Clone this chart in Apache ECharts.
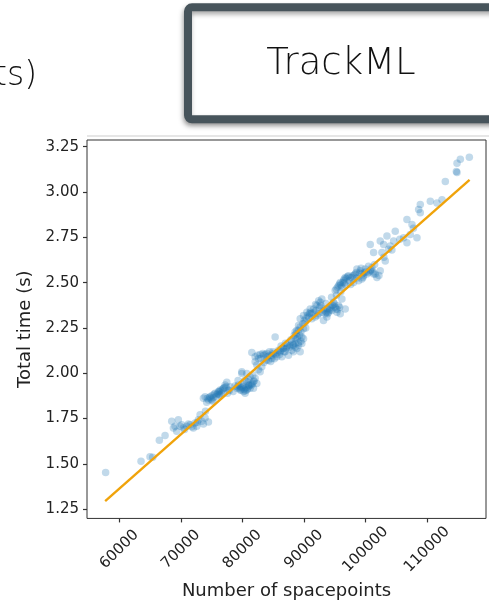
<!DOCTYPE html>
<html>
<head>
<meta charset="utf-8">
<script src="https://cdn.jsdelivr.net/npm/echarts@6/dist/echarts.min.js"></script>
<style>html,body{margin:0;padding:0;background:#fff}#c{width:489px;height:605px}</style>
</head>
<body>
<div id="c"></div>
<script>
// Number of spacepoints per event
const spacepoints = [
57780,63530,64990,65430,66510,67440,
68520,69600,68790,69330,69880,70420,70960,71500,72040,72320,72860,73130,73400,73940,74490,70150,71230,72590,73670,69060,
73670,74490,74760,75300,75840,76110,76380,76930,77200,77470,77740,76650,75570,75030,78010,77580,73940,74320,74650,75080,75410,75730,76000,76270,76550,76820,77090,77360,74860,76220,
79090,79640,80180,80720,81260,81540,81810,82080,81260,80720,80180,79640,79910,80990,82350,81810,80450,79370,79200,79530,79910,80290,80610,80990,81370,81640,81910,80070,80830,81160,80450,79750,79910,80720,
81540,82080,82620,82890,83160,83430,83980,84520,85060,85600,86140,86690,87230,87770,88040,88310,88580,88860,89130,89400,89670,89940,85330,82350,84790,85870,86960,87500,86420,84250,82080,82460,82890,83320,83700,84080,84410,84950,85330,85710,86250,86580,87120,87660,88200,88580,89130,89510,83000,83870,84790,86040,86800,87340,
88040,88310,88860,88580,89130,89400,89940,90480,91030,89670,90210,90750,88860,91300,88420,88750,89130,89400,89830,90050,90370,90590,90920,89510,89940,88960,
91570,92110,92650,92920,93190,93470,93740,94010,94280,94550,94820,95090,95360,95630,95910,96180,96720,92380,91840,91030,93190,91680,92000,92540,92760,93300,93630,93850,94170,94390,94710,94930,95260,95470,95800,93850,94550,92920,92220,
95090,95630,95910,96450,96720,97260,97800,98350,98620,99160,99430,99700,100240,100790,101060,101330,101870,102410,96180,98080,98890,99970,95260,95470,95800,96010,96340,96560,96880,97100,97530,97970,98180,98510,99050,99430,99810,100140,100520,100900,101220,101600,96560,97420,99590,
100790,102410,102960,103500,104040,104580,104850,103230,101330,102680,103770,106750,107570,108380,106750,106210,107290,108920,108650,108920,110550,111630,112450,112990,114780,114890,114890,115430,116890,
70600,71800,72700,74000,74200,75200,76400,77900,78500,78800,79300,80400,81000,81700,82600,83500,84600,85200,86300,87000,87900,88600,89300,90300,91200,91900,92400,93600,94500,95300,96000,96800,97600,98600,99300,100500,101500,102200,103000,104300,105600,107800
];
// Total time (s)
const totalTime = [
1.452,1.515,1.539,1.537,1.630,1.656,
1.735,1.744,1.698,1.680,1.707,1.698,1.707,1.716,1.698,1.725,1.744,1.771,1.735,1.753,1.731,1.716,1.720,1.707,1.720,1.707,
1.862,1.853,1.871,1.866,1.881,1.899,1.908,1.917,1.935,1.950,1.908,1.890,1.890,1.853,1.926,1.890,1.871,1.862,1.866,1.877,1.884,1.871,1.890,1.899,1.903,1.913,1.921,1.926,1.859,1.881,
1.917,1.908,1.899,1.908,1.917,1.935,1.954,1.972,1.981,1.954,1.935,1.926,1.999,1.935,1.944,1.917,1.890,1.935,1.926,1.917,1.921,1.913,1.921,1.926,1.939,1.944,1.957,1.926,1.913,1.932,1.903,1.908,2.008,1.999,
2.114,2.063,2.081,2.008,2.036,2.100,2.109,2.100,2.109,2.091,2.118,2.136,2.145,2.155,2.127,2.118,2.164,2.136,2.155,2.118,2.164,2.191,2.200,2.045,2.081,2.127,2.118,2.100,2.091,2.072,2.091,2.100,2.103,2.109,2.103,2.091,2.118,2.118,2.103,2.114,2.127,2.140,2.136,2.145,2.158,2.145,2.169,2.176,2.081,2.072,2.096,2.103,2.118,2.155,
2.173,2.155,2.191,2.228,2.264,2.301,2.319,2.337,2.355,2.200,2.282,2.310,2.237,2.301,2.209,2.218,2.237,2.255,2.273,2.291,2.304,2.319,2.328,2.228,2.246,2.200,
2.355,2.374,2.392,2.410,2.355,2.328,2.310,2.337,2.355,2.374,2.392,2.364,2.337,2.374,2.328,2.410,2.355,2.328,2.310,2.337,2.291,2.337,2.346,2.364,2.374,2.346,2.337,2.328,2.346,2.364,2.377,2.383,2.355,2.352,2.364,2.355,2.346,2.337,2.319,
2.456,2.483,2.501,2.511,2.529,2.538,2.529,2.547,2.575,2.565,2.520,2.538,2.547,2.565,2.584,2.547,2.529,2.565,2.474,2.501,2.511,2.575,2.465,2.474,2.492,2.487,2.501,2.520,2.523,2.534,2.529,2.538,2.542,2.556,2.553,2.547,2.556,2.560,2.556,2.571,2.560,2.547,2.498,2.511,2.529,
2.711,2.730,2.711,2.757,2.702,2.730,2.784,2.620,2.666,2.666,2.684,2.848,2.821,2.748,2.720,2.748,2.766,2.931,2.903,2.885,2.949,2.940,2.958,3.058,3.113,3.108,3.159,3.181,3.192,
1.690,1.705,1.730,1.790,1.840,1.845,1.880,1.905,1.900,1.930,1.960,1.960,1.965,1.990,2.020,2.060,2.065,2.080,2.150,2.165,2.185,2.190,2.210,2.250,2.330,2.380,2.400,2.385,2.420,2.430,2.450,2.485,2.490,2.525,2.580,2.590,2.600,2.540,2.640,2.680,2.740,2.800
];
// Linear fit line end points
const fitX = [57700, 116930];
const fitY = [1.294, 3.067];
// Tick labels
const xTicks = [60000, 70000, 80000, 90000, 100000, 110000];
const yTicks = [1.25, 1.50, 1.75, 2.00, 2.25, 2.50, 2.75, 3.00, 3.25];

const points = spacepoints.map((x, i) => [x, totalTime[i]]);
const fitData = fitX.map((x, i) => [x, fitY[i]]);

const chart = echarts.init(document.getElementById('c'), null, {renderer: 'canvas'});
const font = 'DejaVu Sans';
chart.setOption({
  animation: false,
  backgroundColor: '#fff',
  grid: {left: 87, top: 140, width: 399, height: 381, show: true, borderColor: '#333', borderWidth: 1, containLabel: false},
  xAxis: {
    type: 'value', min: 54750, max: 119600,
    splitLine: {show: false},
    axisLine: {show: false},
    axisTick: {show: true, length: 4, customValues: xTicks, lineStyle: {color: '#333', width: 1.2}},
    axisLabel: {customValues: xTicks, rotate: 45, fontSize: 15, fontFamily: font, color: '#222',
      align: 'center', verticalAlign: 'middle', margin: 31, formatter: v => String(v)},
    name: 'Number of spacepoints', nameLocation: 'middle', nameGap: 61,
    nameTextStyle: {fontSize: 18, fontFamily: font, color: '#222'}
  },
  yAxis: {
    type: 'value', min: 1.199, max: 3.287,
    splitLine: {show: false},
    axisLine: {show: false},
    axisTick: {show: true, length: 4, customValues: yTicks, lineStyle: {color: '#333', width: 1.2}},
    axisLabel: {customValues: yTicks, fontSize: 15, fontFamily: font, color: '#222', margin: 8,
      formatter: v => Number(v).toFixed(2)},
    name: 'Total time (s)', nameLocation: 'middle', nameGap: 43, nameRotate: 90,
    nameTextStyle: {fontSize: 18, fontFamily: font, color: '#222'}
  },
  series: [
    {type: 'scatter', data: points, symbolSize: 7.5,
      itemStyle: {color: '#1f77b4', opacity: 0.28}, z: 2},
    {type: 'line', data: fitData, symbol: 'none', showSymbol: false,
      lineStyle: {color: '#f0a30a', width: 2.4}, z: 3}
  ],
  graphic: [
    {type: 'rect', shape: {x: 87, y: 135, width: 402, height: 2}, style: {fill: '#e6e6e6'}, silent: true},
    {type: 'rect', shape: {x: 188, y: 7.3, width: 330, height: 112, r: 4},
      style: {fill: '#fff', stroke: '#47545b', lineWidth: 8, shadowBlur: 5, shadowColor: 'rgba(0,0,0,0.35)', shadowOffsetX: -1, shadowOffsetY: 3}},
    {type: 'text', x: 341, y: 64, style: {text: 'TrackML', font: '200 37px "DejaVu Sans"', fill: '#111', align: 'center', verticalAlign: 'middle'}},
    {type: 'text', x: 37, y: 76, style: {text: 'ts)', font: '200 33px "DejaVu Sans"', fill: '#111', align: 'right', verticalAlign: 'middle'}}
  ]
});
</script>
</body>
</html>
